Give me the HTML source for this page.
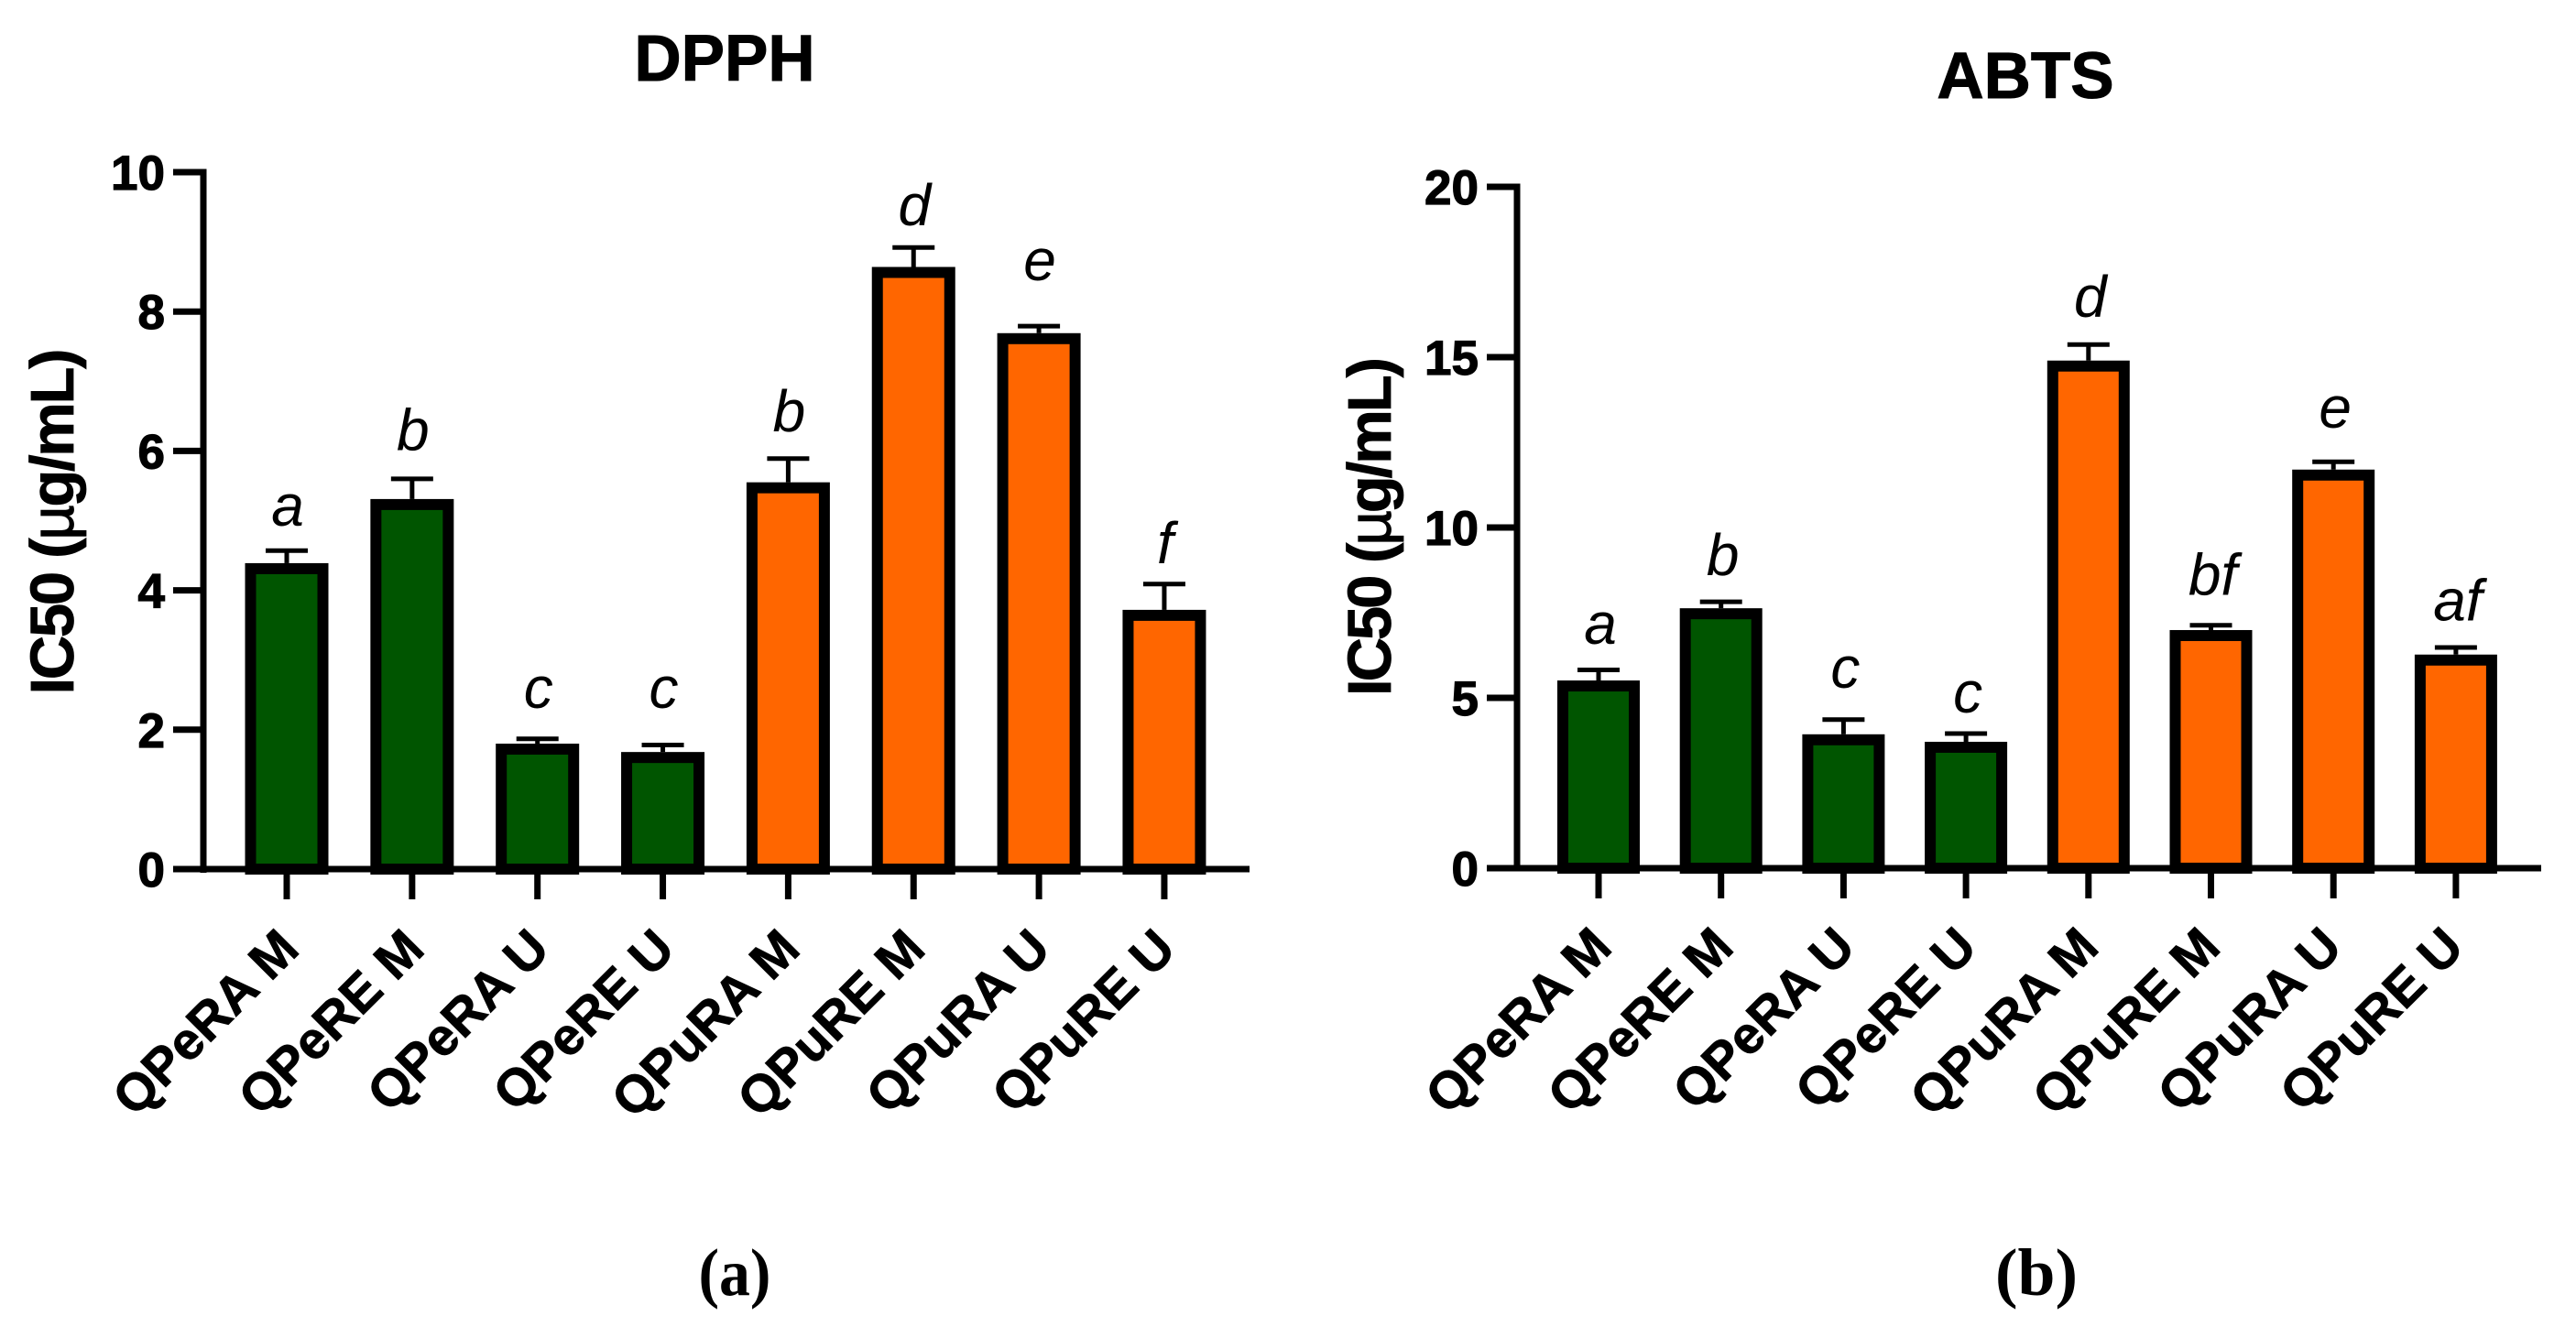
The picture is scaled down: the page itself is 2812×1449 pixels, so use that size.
<!DOCTYPE html>
<html lang="en">
<head>
<meta charset="utf-8">
<title>DPPH and ABTS IC50 bar charts</title>
<style>
html,body{margin:0;padding:0;background:#fff;}
#figure{display:block;width:2812px;height:1449px;font-family:"Liberation Sans",Arial,sans-serif;fill:#000;}
</style>
</head>
<body>
<svg id="figure" xmlns="http://www.w3.org/2000/svg" width="2812" height="1449" viewBox="0 0 2812 1449">
  <text x="791" y="88" font-size="71" font-weight="bold" text-anchor="middle" stroke="#000" stroke-width="1">DPPH</text>
  <text x="2211" y="107" font-size="71" font-weight="bold" text-anchor="middle" stroke="#000" stroke-width="1">ABTS</text>
  <text transform="translate(80 569.5) rotate(-90)" font-size="67" font-weight="bold" text-anchor="middle" stroke="#000" stroke-width="0.8" textLength="378">IC50 (<tspan font-weight="normal">µ</tspan>g/mL)</text>
  <text transform="translate(1518 575) rotate(-90)" font-size="67" font-weight="bold" text-anchor="middle" stroke="#000" stroke-width="0.8" textLength="370">IC50 (<tspan font-weight="normal">µ</tspan>g/mL)</text>
  <text x="802" y="1414" font-family="'Liberation Serif',serif" font-size="73" font-weight="bold" text-anchor="middle" textLength="79" lengthAdjust="spacingAndGlyphs">(a)</text>
  <text x="2223" y="1414" font-family="'Liberation Serif',serif" font-size="73" font-weight="bold" text-anchor="middle" textLength="90" lengthAdjust="spacingAndGlyphs">(b)</text>
  <g id="chart-a"></g>
  <g id="chart-b"></g>
</svg>
<script>
const categories = ["QPeRA M", "QPeRE M", "QPeRA U", "QPeRE U", "QPuRA M", "QPuRE M", "QPuRA U", "QPuRE U"];
const barColors = ["#005500", "#005500", "#005500", "#005500", "#FF6600", "#FF6600", "#FF6600", "#FF6600"];

const dpphValues = [4.39, 5.31, 1.80, 1.68, 5.55, 8.64, 7.69, 3.72];
const dpphErrors = [0.18, 0.29, 0.07, 0.10, 0.34, 0.28, 0.10, 0.37];
const dpphLetters = ["a", "b", "c", "c", "b", "d", "e", "f"];
const dpphLetterLevels = [4.93, 6.01, 2.31, 2.31, 6.28, 9.24, 8.45, 4.39];
const dpphTicks = [0, 2, 4, 6, 8, 10];

const abtsValues = [5.51, 7.63, 3.93, 3.71, 14.90, 6.99, 11.70, 6.27];
const abtsErrors = [0.31, 0.19, 0.43, 0.24, 0.47, 0.14, 0.23, 0.21];
const abtsLetters = ["a", "b", "c", "c", "d", "bf", "e", "af"];
const abtsLetterLevels = [6.59, 8.60, 5.30, 4.57, 16.18, 8.02, 12.93, 7.27];
const abtsTicks = [0, 5, 10, 15, 20];

const SVG_NS = "http://www.w3.org/2000/svg";

function make(parent, tag, attrs, content) {
  const node = document.createElementNS(SVG_NS, tag);
  for (const key in attrs) node.setAttribute(key, attrs[key]);
  if (content !== undefined) node.textContent = content;
  parent.appendChild(node);
  return node;
}

function drawChart(cfg) {
  const root = document.getElementById(cfg.id);
  const y = function (v) { return cfg.y0 - (v / cfg.yMax) * (cfg.y0 - cfg.yTop); };
  const x = function (i) { return cfg.x0 + i * cfg.step; };
  const ink = "#000";

  cfg.values.forEach(function (value, i) {
    const cx = x(i);
    const top = y(value);
    const capY = y(value + cfg.errors[i]);

    const stem = make(root, "line", { x1: cx, x2: cx, y1: top, y2: capY, stroke: ink, "stroke-width": 5 });
    
    

    const cap = make(root, "line", { x1: cx - 23, x2: cx + 23, y1: capY, y2: capY, stroke: ink, "stroke-width": 5 });
    
    

    const bar = make(root, "rect", {
      x: cx - cfg.barW / 2 + 6,
      y: top + 6,
      width: cfg.barW - 12,
      height: cfg.y0 - top - 6,
      fill: barColors[i],
      stroke: ink,
      "stroke-width": 12
    });
    
    

    const letter = make(root, "text", {
      x: cx + cfg.letterDx,
      y: y(cfg.levels[i]),
      "font-size": 64,
      "font-style": "italic",
      "text-anchor": "middle"
    }, cfg.letters[i]);
    
    

    const tick = make(root, "line", { x1: cx, x2: cx, y1: cfg.y0, y2: cfg.y0 + 33, stroke: ink, "stroke-width": 7 });
    
    

    const ax = cfg.x0 + cfg.labelDx + i * cfg.labelStep;
    const ay = cfg.labelY;
    const label = make(root, "text", {
      transform: "translate(" + ax + " " + ay + ") rotate(-45)",
      "font-size": 57,
      "font-weight": "bold",
      "text-anchor": "end",
      stroke: ink,
      "stroke-width": 0.8
    }, categories[i]);
    
    
  });

  const yAxis = make(root, "line", { x1: cfg.axisX, x2: cfg.axisX, y1: cfg.yTop - 3.5, y2: cfg.y0 + cfg.stub, stroke: ink, "stroke-width": 7 });
  
  

  const xAxis = make(root, "line", { x1: cfg.axisX - 33, x2: cfg.axisEnd, y1: cfg.y0, y2: cfg.y0, stroke: ink, "stroke-width": 7 });
  
  

  cfg.ticks.forEach(function (value) {
    const ty = y(value);
    const tick = make(root, "line", { x1: cfg.axisX - 33, x2: cfg.axisX, y1: ty, y2: ty, stroke: ink, "stroke-width": 7 });
    
    

    const label = make(root, "text", {
      x: cfg.axisX - 42,
      y: ty + 19,
      "font-size": 53,
      "font-weight": "bold",
      "text-anchor": "end",
      stroke: ink,
      "stroke-width": 1.2
    }, String(value));
    
    
  });
}

drawChart({
  id: "chart-a", values: dpphValues, errors: dpphErrors, letters: dpphLetters, levels: dpphLetterLevels, ticks: dpphTicks,
  yMax: 10, y0: 949, yTop: 188, x0: 313, step: 136.85, barW: 91, axisX: 222, axisEnd: 1364, stub: 4, labelDx: 16, labelStep: 136.7, labelY: 1039, letterDx: 1
});

drawChart({
  id: "chart-b", values: abtsValues, errors: abtsErrors, letters: abtsLetters, levels: abtsLetterLevels, ticks: abtsTicks,
  yMax: 20, y0: 948, yTop: 204, x0: 1745, step: 133.7, barW: 90, axisX: 1656, axisEnd: 2774, stub: 0, labelDx: 17, labelStep: 132.85, labelY: 1037, letterDx: 2
});
</script>
</body>
</html>
